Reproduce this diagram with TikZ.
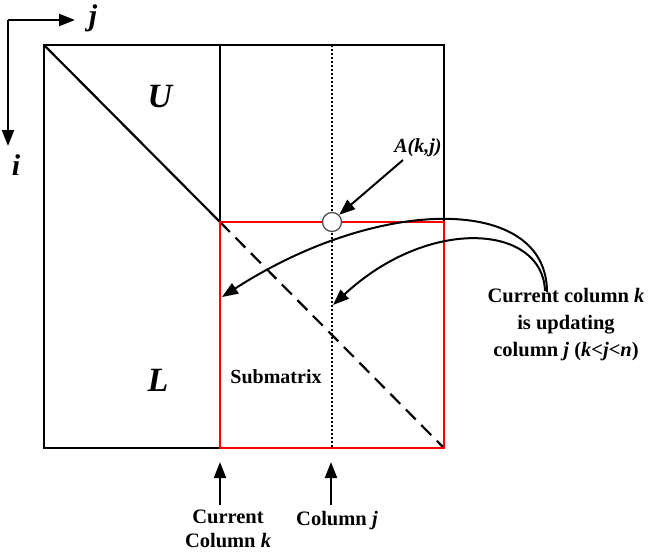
\documentclass[tikz,border=0pt]{standalone}
\usepackage{fontspec}
\setmainfont{Liberation Serif}
\usetikzlibrary{arrows.meta}
\begin{document}
\begin{tikzpicture}[x=1pt,y=-1pt,
  blk/.style={line width=2.2pt, line cap=butt},
  redl/.style={draw=red, line width=2.8pt},
  arr/.style={line width=2pt, -{Triangle[length=16pt,width=12pt]}},
  lab/.style={font=\fontsize{20.5}{26}\selectfont\bfseries, align=center, inner sep=0pt},
  big/.style={font=\fontsize{34}{34}\selectfont\bfseries\itshape, inner sep=0pt}
]
\useasboundingbox (0,0) rectangle (650,554);
% geometry
\coordinate (TL) at (44,45);
\coordinate (BR) at (444,448);
\coordinate (K) at (220,222);
\coordinate (Ktop) at (220,45);
\coordinate (Jtop) at (332,45);
\coordinate (Jbot) at (332,448);
% matrix
\draw[blk] (TL) rectangle (BR);
\draw[blk] (Ktop) -- (K);
\draw[blk] (TL) -- (K);
\draw[blk, dash pattern=on 14pt off 8pt] (K) -- (BR);
\draw[line width=1.8pt, dash pattern=on 2pt off 2pt] (Jtop) -- (Jbot);
\draw[redl] (K) rectangle (BR);
\node[circle, draw=black!70, fill=white, line width=1.3pt, minimum size=19pt, inner sep=0pt] (akj) at (332,222) {};
% labels in matrix
\node[big] (U) at (160,97) {U};
\node[big] (L) at (158,380) {L};
\node[font=\fontsize{20}{24}\selectfont\bfseries, inner sep=0pt] (sub) at (276,377) {Submatrix};
% axes
\coordinate (O) at (8,20);
\coordinate (Jend) at (75,20);
\coordinate (Iend) at (8,146);
\draw[arr] (O) -- (Jend);
\draw[arr] (O) -- (Iend);
\node[font=\fontsize{30}{30}\selectfont\bfseries\itshape, inner sep=0pt] (jlab) at (93,18) {j};
\node[font=\fontsize{30}{30}\selectfont\bfseries\itshape, inner sep=0pt] (ilab) at (16,165) {i};
% A(k,j)
\node[font=\fontsize{20}{22}\selectfont\bfseries\itshape, inner sep=0pt] (Alab) at (418,148) {A(k,j)};
\coordinate (Astart) at (403,160);
\draw[arr] (Astart) -- (akj.north east);
% right label and curves
\node[lab] (upd) at (566,325) {Current column \textit{k}\\[1pt]is updating\\[1pt]column \textit{j} (\textit{k}<\textit{j}<\textit{n})};
\coordinate (c1) at (547,292);
\coordinate (c2) at (545,291);
\coordinate (t1) at (222,297);
\coordinate (t2) at (333,305);
\draw[arr] (c1) .. controls (547,195) and (380,195) .. (t1);
\draw[arr] (c2) .. controls (543,225) and (430,215) .. (t2);
% bottom labels
\node[lab, font=\fontsize{20.5}{24}\selectfont\bfseries] (ck) at (228,529) {Current\\Column \textit{k}};
\node[lab] (cj) at (337,521) {Column \textit{j}};
\coordinate (kb) at (220,505);
\coordinate (kt) at (220,462);
\coordinate (jb) at (331,505);
\coordinate (jt) at (331,462);
\draw[arr] (kb) -- (kt);
\draw[arr] (jb) -- (jt);
\end{tikzpicture}
\end{document}
